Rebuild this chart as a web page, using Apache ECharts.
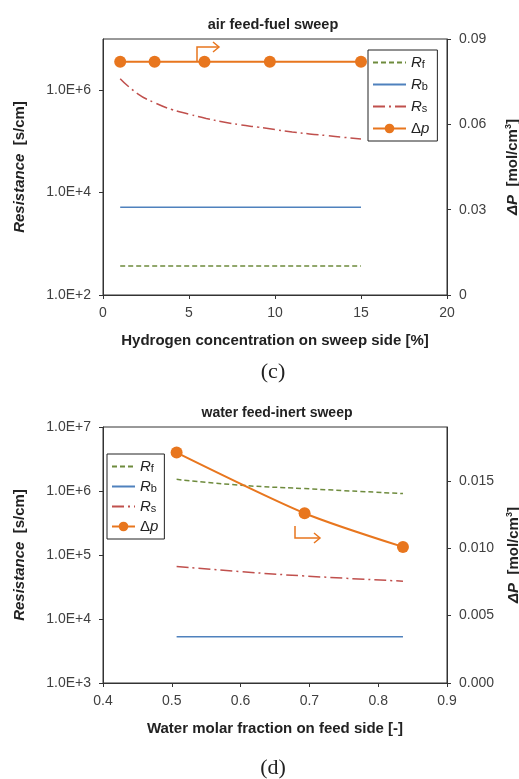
<!DOCTYPE html>
<html>
<head>
<meta charset="utf-8">
<script src="https://cdn.jsdelivr.net/npm/echarts@6/dist/echarts.min.js"></script>
<style>
  html, body { margin: 0; padding: 0; background: #fff; }
  #chart { width: 519px; height: 779px; }
</style>
</head>
<body>
<div id="chart"></div>
<script>
// ---- (c) air feed-fuel sweep ----
const cDpX = [1, 3, 5.9, 9.7, 15];
const cDp = [0.082, 0.082, 0.082, 0.082, 0.082];
const cFlatX = [1, 15];
const cRf = [370, 370];
const cRb = [5200, 5200];
const cRsX = [1, 2, 3, 4, 5, 6, 7, 8, 9, 10, 11, 12, 13, 14, 15];
const cRs = [1.68e6, 8.6e5, 5.7e5, 4.2e5, 3.4e5, 2.8e5, 2.4e5, 2.1e5, 1.9e5, 1.7e5, 1.53e5, 1.4e5, 1.3e5, 1.2e5, 1.12e5];

// ---- (d) water feed-inert sweep ----
const dDpX = [0.507, 0.693, 0.836];
const dDp = [0.0171, 0.0126, 0.0101];
const dLineX = [0.507, 0.6, 0.693, 0.836];
const dRf = [1.52e6, 1.23e6, 1.09e6, 9.1e5];
const dRb = [5300, 5300, 5300, 5300];
const dRs = [6.6e4, 5.5e4, 4.7e4, 3.9e4];

const ORANGE = '#E8761E';
const GREEN = '#6E8B3D';
const BLUE = '#4F81BD';
const RED = '#C0504D';
const FONT = 'Liberation Sans, Arial, sans-serif';
const SERIF = 'Liberation Serif, Times New Roman, serif';

function zip(xs, ys) {
  return xs.map((x, i) => [x, ys[i]]);
}

const chart = echarts.init(document.getElementById('chart'));

const legendNames = {
  Rf: '{i|R}{s|f}',
  Rb: '{i|R}{s|b}',
  Rs: '{i|R}{s|s}',
  'Δp': '{n|Δ}{i|p}'
};

// lines without markers: hide the legend's symbol dot
const noDot = { opacity: 0 };

function legend(left, top, itemWidth, gap, padRight) {
  return {
    orient: 'vertical',
    left: left,
    top: top,
    data: [
      { name: 'Rf', itemStyle: noDot },
      { name: 'Rb', itemStyle: noDot },
      { name: 'Rs', itemStyle: noDot },
      'Δp'
    ],
    itemWidth: itemWidth,
    itemHeight: 12,
    itemGap: gap,
    padding: [5, padRight, 5, 4],
    borderColor: '#222',
    borderWidth: 1,
    selectedMode: false,
    formatter: n => legendNames[n],
    textStyle: {
      color: '#222',
      fontFamily: FONT,
      width: 22,
      rich: {
        i: { fontStyle: 'italic', fontSize: 15, fontFamily: FONT, color: '#222' },
        n: { fontSize: 15, fontFamily: FONT, color: '#222' },
        s: { fontSize: 11, fontFamily: FONT, color: '#222', padding: [4, 0, 0, 0] }
      }
    }
  };
}

const axisLabel = { color: '#404040', fontSize: 14, fontFamily: FONT };
const axisLine = { show: true, lineStyle: { color: '#333', width: 1 } };
const axisTick = { show: true, inside: false, length: 4, lineStyle: { color: '#333' } };
const nameStyle = {
  fontSize: 15, fontWeight: 'bold', fontFamily: FONT, color: '#222',
  rich: {
    i: { fontSize: 15, fontWeight: 'bold', fontStyle: 'italic', fontFamily: FONT, color: '#222' },
    n: { fontSize: 15, fontWeight: 'bold', fontFamily: FONT, color: '#222' },
    sup: { fontSize: 9, fontWeight: 'bold', fontFamily: FONT, color: '#222', verticalAlign: 'top', padding: [0, 0, 8, 0] }
  }
};
const logLabel = v => '1.0E+' + Math.round(Math.log10(v));

function line(name, xi, yi, data, color, type, width) {
  return {
    name: name, type: 'line', xAxisIndex: xi, yAxisIndex: yi,
    data: data, symbol: 'none', smooth: false,
    lineStyle: { color: color, width: width || 1.5, type: type },
    itemStyle: { color: color },
    z: 2
  };
}

function dpSeries(xi, yi, data, smooth) {
  return {
    name: 'Δp', type: 'line', xAxisIndex: xi, yAxisIndex: yi,
    data: data, symbol: 'circle', symbolSize: 12, smooth: smooth,
    lineStyle: { color: ORANGE, width: 2 },
    itemStyle: { color: ORANGE },
    z: 3
  };
}

function arrow(points, head) {
  return [
    { type: 'polyline', shape: { points: points }, style: { stroke: ORANGE, lineWidth: 1.5, fill: null } },
    { type: 'polyline', shape: { points: head }, style: { stroke: ORANGE, lineWidth: 1.5, fill: null } }
  ];
}

chart.setOption({
  backgroundColor: '#fff',
  animation: false,
  title: [
    { text: 'air feed-fuel sweep', left: 268, top: 12, textAlign: 'center',
      textStyle: { fontSize: 14.5, fontWeight: 'bold', fontFamily: FONT, color: '#222' } },
    { text: 'water feed-inert sweep', left: 272, top: 401, textAlign: 'center',
      textStyle: { fontSize: 14, fontWeight: 'bold', fontFamily: FONT, color: '#222' } }
  ],
  grid: [
    { left: 103, top: 39, width: 344, height: 256, show: true, borderColor: '#333', borderWidth: 1, outerBoundsMode: 'none' },
    { left: 103, top: 427, width: 344, height: 256, show: true, borderColor: '#333', borderWidth: 1, outerBoundsMode: 'none' }
  ],
  legend: [legend(368, 50, 33, 7, 8), legend(107, 454, 23, 5, 6)],
  xAxis: [
    { type: 'value', gridIndex: 0, min: 0, max: 20, interval: 5,
      axisLine: axisLine, axisTick: axisTick, splitLine: { show: false },
      axisLabel: Object.assign({ margin: 11 }, axisLabel),
      name: 'Hydrogen concentration on sweep side [%]', nameLocation: 'middle', nameGap: 38,
      nameTextStyle: nameStyle },
    { type: 'value', gridIndex: 1, min: 0.4, max: 0.9, interval: 0.1,
      axisLine: axisLine, axisTick: axisTick, splitLine: { show: false },
      axisLabel: Object.assign({ margin: 11, formatter: v => v.toFixed(1) }, axisLabel),
      name: 'Water molar fraction on feed side [-]', nameLocation: 'middle', nameGap: 38,
      nameTextStyle: nameStyle }
  ],
  yAxis: [
    { type: 'log', logBase: 10, gridIndex: 0, min: 100, max: 1e7, interval: 2,
      axisLine: axisLine, axisTick: axisTick, splitLine: { show: false },
      axisLabel: Object.assign({ formatter: logLabel, showMaxLabel: false, margin: 12 }, axisLabel),
      name: '{i|Resistance}  [s/cm]', nameLocation: 'middle', nameGap: 76,
      nameTextStyle: nameStyle },
    { type: 'value', gridIndex: 0, position: 'right', min: 0, max: 0.09, interval: 0.03,
      axisLine: axisLine, axisTick: axisTick, splitLine: { show: false },
      axisLabel: Object.assign({ margin: 12 }, axisLabel),
      name: '{i|ΔP}  [mol/cm{sup|3}]', nameLocation: 'middle', nameGap: 57, nameRotate: 90,
      nameTextStyle: nameStyle },
    { type: 'log', logBase: 10, gridIndex: 1, min: 1000, max: 1e7, interval: 1,
      axisLine: axisLine, axisTick: axisTick, splitLine: { show: false },
      axisLabel: Object.assign({ formatter: logLabel, margin: 12 }, axisLabel),
      name: '{i|Resistance}  [s/cm]', nameLocation: 'middle', nameGap: 76,
      nameTextStyle: nameStyle },
    { type: 'value', gridIndex: 1, position: 'right', min: 0, max: 0.019, interval: 0.005,
      axisLine: axisLine, axisTick: axisTick, splitLine: { show: false },
      axisLabel: Object.assign({ formatter: v => v.toFixed(3), showMaxLabel: false, margin: 12 }, axisLabel),
      name: '{i|ΔP}  [mol/cm{sup|3}]', nameLocation: 'middle', nameGap: 57, nameRotate: 90,
      nameTextStyle: nameStyle }
  ],
  series: [
    line('Rf', 0, 0, zip(cFlatX, cRf), GREEN, [5, 3]),
    line('Rb', 0, 0, zip(cFlatX, cRb), BLUE, 'solid'),
    Object.assign(line('Rs', 0, 0, zip(cRsX, cRs), RED, [12, 4, 2, 4]), { smooth: true }),
    dpSeries(0, 1, zip(cDpX, cDp), false),
    Object.assign(line('Rf', 1, 2, zip(dLineX, dRf), GREEN, [5, 3]), { smooth: true }),
    line('Rb', 1, 2, zip(dLineX, dRb), BLUE, 'solid'),
    Object.assign(line('Rs', 1, 2, zip(dLineX, dRs), RED, [12, 4, 2, 4]), { smooth: true }),
    dpSeries(1, 3, zip(dDpX, dDp), 0.25)
  ],
  graphic: [
    { type: 'text', x: 273, y: 372, style: { text: '(c)', fontSize: 22, fontFamily: SERIF, fill: '#222', textAlign: 'center', textVerticalAlign: 'middle' } },
    { type: 'text', x: 273, y: 768, style: { text: '(d)', fontSize: 22, fontFamily: SERIF, fill: '#222', textAlign: 'center', textVerticalAlign: 'middle' } }
  ]
    .concat(arrow([[197, 61], [197, 47], [219, 47]], [[213, 42], [219, 47], [213, 52]]))
    .concat(arrow([[295, 526], [295, 538], [320, 538]], [[314, 533], [320, 538], [314, 543]]))
});
</script>
</body>
</html>
